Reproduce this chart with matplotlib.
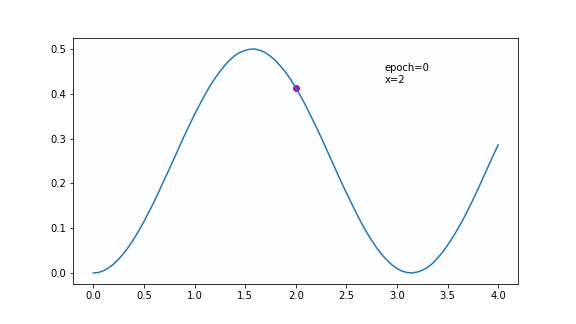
import numpy as np
import matplotlib
matplotlib.use("Agg")
import matplotlib.pyplot as plt

# curve values
xs = [0.00, 0.05, 0.10, 0.15, 0.20, 0.25, 0.30, 0.35, 0.40, 0.45,
      0.50, 0.55, 0.60, 0.65, 0.70, 0.75, 0.80, 0.85, 0.90, 0.95,
      1.00, 1.05, 1.10, 1.15, 1.20, 1.25, 1.30, 1.35, 1.40, 1.45,
      1.50, 1.55, 1.60, 1.65, 1.70, 1.75, 1.80, 1.85, 1.90, 1.95,
      2.00, 2.05, 2.10, 2.15, 2.20, 2.25, 2.30, 2.35, 2.40, 2.45,
      2.50, 2.55, 2.60, 2.65, 2.70, 2.75, 2.80, 2.85, 2.90, 2.95,
      3.00, 3.05, 3.10, 3.15, 3.20, 3.25, 3.30, 3.35, 3.40, 3.45,
      3.50, 3.55, 3.60, 3.65, 3.70, 3.75, 3.80, 3.85, 3.90, 3.95, 4.00]
ys = [0.000, 0.001, 0.005, 0.011, 0.020, 0.031, 0.044, 0.059, 0.076, 0.095,
      0.115, 0.137, 0.159, 0.183, 0.208, 0.232, 0.257, 0.282, 0.307, 0.331,
      0.354, 0.376, 0.397, 0.417, 0.434, 0.450, 0.464, 0.476, 0.486, 0.493,
      0.497, 0.500, 0.500, 0.497, 0.492, 0.484, 0.474, 0.462, 0.448, 0.432,
      0.413, 0.394, 0.373, 0.350, 0.327, 0.303, 0.278, 0.253, 0.228, 0.203,
      0.179, 0.156, 0.133, 0.111, 0.091, 0.073, 0.056, 0.041, 0.029, 0.018,
      0.010, 0.004, 0.001, 0.000, 0.002, 0.006, 0.012, 0.021, 0.033, 0.046,
      0.062, 0.079, 0.098, 0.118, 0.140, 0.163, 0.187, 0.212, 0.237, 0.262, 0.286]

point_x = [2.0]
point_y = [0.413]
epoch = 0

fig = plt.figure(figsize=(8, 4.5), dpi=72)
fig.subplots_adjust(left=0.127, right=0.9, bottom=0.123, top=0.883)
ax = fig.add_subplot(111)
ax.set_facecolor('#fdfdfd')

ax.plot(xs, ys)
ax.scatter(point_x, point_y, color='m')
ax.text(0.7, 0.817, 'epoch=%d\nx=%g' % (epoch, point_x[0]), transform=ax.transAxes)

fig.savefig('out.png', dpi=72)
